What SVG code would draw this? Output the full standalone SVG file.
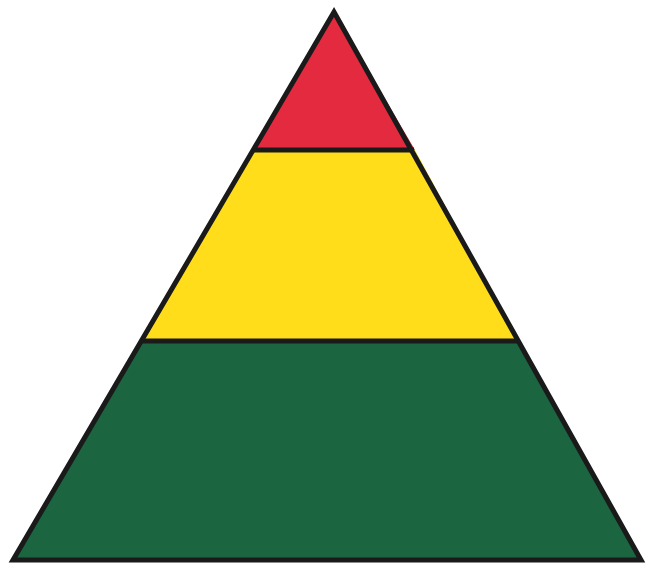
<svg xmlns="http://www.w3.org/2000/svg" width="646" height="570" viewBox="0 0 646 570">
<style>
.band{stroke:none}
.edge{fill:none;stroke:#1a1a1a;stroke-width:5;stroke-linejoin:miter;stroke-linecap:butt}
</style>
<rect width="646" height="570" fill="#ffffff"/>
<g id="top">
<polygon class="band" fill="#e42a3e" points="334,12 253,150 415,150"/>
</g>
<g id="middle">
<polygon class="band" fill="#ffdd1a" points="253,150 415,150 518,341 141,341"/>
</g>
<g id="bottom">
<polygon class="band" fill="#1c6541" points="141,341 518,341 641,560 13,560"/>
</g>
<g id="connectors">
<polygon class="edge" points="334,12 641,560 13,560"/>
<line class="edge" x1="253" y1="150" x2="414" y2="150"/>
<line class="edge" x1="142" y1="341" x2="517" y2="341"/>
</g>
</svg>
